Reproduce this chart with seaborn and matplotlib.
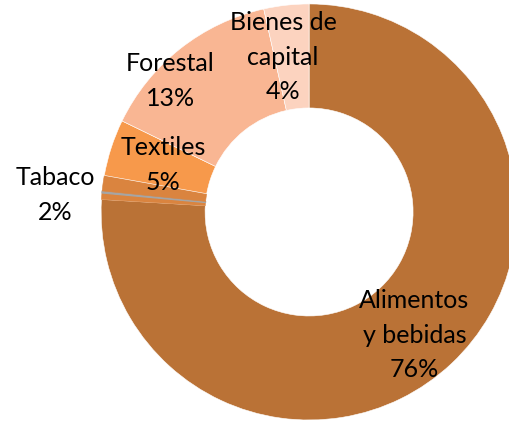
"""
Donut chart: share of sectors (Alimentos y bebidas, Tabaco, Textiles, ...)
"""

import numpy as np
import matplotlib
matplotlib.use('Agg')
import matplotlib.pyplot as plt
import seaborn as sns

# Slices, clockwise from 12 o'clock
sectors = ['Alimentos y bebidas', 'Tabaco', 'Otros', 'Tabaco ', 'Textiles', 'Forestal', 'Bienes de capital']
shares = [76.0, 0.5, 0.15, 1.2, 4.4, 14.3, 3.5]
colors = ['#BA7236', '#DA843F', '#A5A5A5', '#DA843F', '#F7994B', '#F9B693', '#FCD3BF']

# Label texts as printed on the chart
label_texts = ['Alimentos\ny bebidas\n76%', 'Tabaco\n2%', 'Textiles\n5%', 'Forestal\n13%', 'Bienes de\ncapital\n4%']
# polar position (radius, angle in degrees) of each label
label_pos = [(0.78, -49.5), (1.224, 176.2), (0.737, 162.2), (0.918, 136.7), (0.755, 99.5)]


def main():
    sns.set_theme(style='white')
    plt.rcParams['font.family'] = ['Lato', 'DejaVu Sans']

    fig = plt.figure(figsize=(5.10, 4.22), dpi=100)
    ax = fig.add_axes([0, 0, 1, 1])

    wedges, _ = ax.pie(shares, colors=colors, startangle=90, counterclock=False,
                       radius=1.0,
                       wedgeprops=dict(width=0.5, edgecolor='white', linewidth=0.4))
    # the tiny grey slice shows only as a line
    wedges[2].set_edgecolor('#A5A5A5')
    wedges[2].set_linewidth(1.0)
    # the two parts of the tabaco slice have no white seam
    for i in (1, 3):
        wedges[i].set_edgecolor(colors[i])

    for text, (r, ang) in zip(label_texts, label_pos):
        t = np.deg2rad(ang)
        ax.text(r * np.cos(t), r * np.sin(t), text, ha='center', va='center',
                fontsize=18, color='black', linespacing=1.6)

    ax.set_aspect('auto')
    ax.set_xlim(-1.486, 0.966)
    ax.set_ylim(-1.0096, 1.019)
    ax.axis('off')

    fig.savefig('out.png', dpi=100, facecolor='white')


if __name__ == "__main__":
    main()
